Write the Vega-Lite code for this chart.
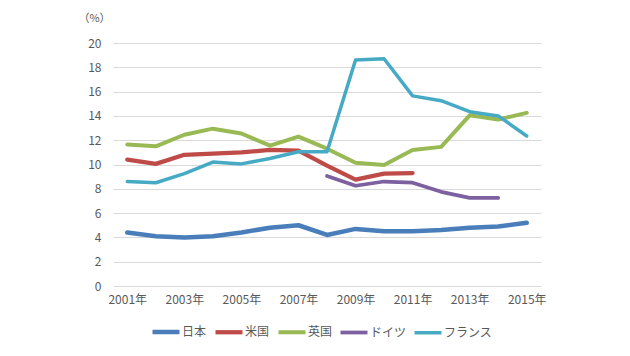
{
  "$schema": "https://vega.github.io/schema/vega-lite/v6.json",
  "autosize": {"type": "none"},
  "padding": {"left": 113, "top": 43, "right": 89, "bottom": 70},
  "width": 428,
  "height": 243,
  "background": "white",
  "config": {
    "view": {"stroke": null},
    "font": "Noto Sans CJK JP",
    "axis": {"labelFont": "Noto Sans CJK JP", "labelColor": "#595959", "labelFontSize": 12, "titleFont": "Noto Sans CJK JP"},
    "legend": {"labelFont": "Noto Sans CJK JP"}
  },
  "data": {
    "values": [
      {"year": 2001, "country": "日本", "value": 4.4},
      {"year": 2002, "country": "日本", "value": 4.1},
      {"year": 2003, "country": "日本", "value": 4.0},
      {"year": 2004, "country": "日本", "value": 4.1},
      {"year": 2005, "country": "日本", "value": 4.4},
      {"year": 2006, "country": "日本", "value": 4.8},
      {"year": 2007, "country": "日本", "value": 5.0},
      {"year": 2008, "country": "日本", "value": 4.2},
      {"year": 2009, "country": "日本", "value": 4.7},
      {"year": 2010, "country": "日本", "value": 4.5},
      {"year": 2011, "country": "日本", "value": 4.5},
      {"year": 2012, "country": "日本", "value": 4.6},
      {"year": 2013, "country": "日本", "value": 4.8},
      {"year": 2014, "country": "日本", "value": 4.9},
      {"year": 2015, "country": "日本", "value": 5.2},
      {"year": 2001, "country": "米国", "value": 10.4},
      {"year": 2002, "country": "米国", "value": 10.05},
      {"year": 2003, "country": "米国", "value": 10.8},
      {"year": 2004, "country": "米国", "value": 10.9},
      {"year": 2005, "country": "米国", "value": 11.0},
      {"year": 2006, "country": "米国", "value": 11.2},
      {"year": 2007, "country": "米国", "value": 11.15},
      {"year": 2008, "country": "米国", "value": 9.9},
      {"year": 2009, "country": "米国", "value": 8.75},
      {"year": 2010, "country": "米国", "value": 9.25},
      {"year": 2011, "country": "米国", "value": 9.3},
      {"year": 2001, "country": "英国", "value": 11.65},
      {"year": 2002, "country": "英国", "value": 11.5},
      {"year": 2003, "country": "英国", "value": 12.45},
      {"year": 2004, "country": "英国", "value": 12.95},
      {"year": 2005, "country": "英国", "value": 12.55},
      {"year": 2006, "country": "英国", "value": 11.55},
      {"year": 2007, "country": "英国", "value": 12.3},
      {"year": 2008, "country": "英国", "value": 11.3},
      {"year": 2009, "country": "英国", "value": 10.15},
      {"year": 2010, "country": "英国", "value": 9.95},
      {"year": 2011, "country": "英国", "value": 11.2},
      {"year": 2012, "country": "英国", "value": 11.45},
      {"year": 2013, "country": "英国", "value": 14.05},
      {"year": 2014, "country": "英国", "value": 13.7},
      {"year": 2015, "country": "英国", "value": 14.25},
      {"year": 2008, "country": "ドイツ", "value": 9.05},
      {"year": 2009, "country": "ドイツ", "value": 8.25},
      {"year": 2010, "country": "ドイツ", "value": 8.6},
      {"year": 2011, "country": "ドイツ", "value": 8.5},
      {"year": 2012, "country": "ドイツ", "value": 7.75},
      {"year": 2013, "country": "ドイツ", "value": 7.25},
      {"year": 2014, "country": "ドイツ", "value": 7.25},
      {"year": 2001, "country": "フランス", "value": 8.6},
      {"year": 2002, "country": "フランス", "value": 8.5},
      {"year": 2003, "country": "フランス", "value": 9.25},
      {"year": 2004, "country": "フランス", "value": 10.2},
      {"year": 2005, "country": "フランス", "value": 10.05},
      {"year": 2006, "country": "フランス", "value": 10.5},
      {"year": 2007, "country": "フランス", "value": 11.05},
      {"year": 2008, "country": "フランス", "value": 11.05},
      {"year": 2009, "country": "フランス", "value": 18.6},
      {"year": 2010, "country": "フランス", "value": 18.7},
      {"year": 2011, "country": "フランス", "value": 15.65},
      {"year": 2012, "country": "フランス", "value": 15.25},
      {"year": 2013, "country": "フランス", "value": 14.35},
      {"year": 2014, "country": "フランス", "value": 14.0},
      {"year": 2015, "country": "フランス", "value": 12.35}
    ]
  },
  "mark": {"type": "line", "strokeJoin": "round", "strokeCap": "round"},
  "encoding": {
    "x": {
      "field": "year",
      "type": "ordinal",
      "scale": {"type": "point", "padding": 0.5, "domain": [2001,2002,2003,2004,2005,2006,2007,2008,2009,2010,2011,2012,2013,2014,2015]},
      "axis": {
        "title": null,
        "values": [2001,2003,2005,2007,2009,2011,2013,2015],
        "labelExpr": "datum.label + '年'",
        "labelAngle": 0,
        "ticks": false,
        "domain": false,
        "grid": false,
        "labelPadding": 8
      }
    },
    "y": {
      "field": "value",
      "type": "quantitative",
      "scale": {"domain": [0, 20]},
      "axis": {
        "values": [0,2,4,6,8,10,12,14,16,18,20],
        "title": "（%）",
        "titleAngle": 0,
        "titleX": -19,
        "titleY": -25,
        "titleAlign": "center",
        "titleBaseline": "middle",
        "titleFontSize": 11,
        "titleFontWeight": "normal",
        "titleColor": "#595959",
        "ticks": false,
        "domain": false,
        "gridColor": "#d9d9d9",
        "gridWidth": 1,
        "labelPadding": 12
      }
    },
    "color": {
      "field": "country",
      "type": "nominal",
      "scale": {"domain": ["日本", "米国", "英国", "ドイツ", "フランス"], "range": ["#4a7ebb", "#be4b48", "#98b954", "#7d60a0", "#46aac5"]},
      "legend": {
        "title": null,
        "orient": "none",
        "legendX": 37,
        "legendY": 273,
        "direction": "horizontal",
        "columns": 5,
        "symbolType": "stroke",
        "symbolSize": 729,
        "symbolStrokeWidth": 4,
        "labelFontSize": 12,
        "labelColor": "#595959",
        "labelOffset": 0,
        "columnPadding": 0
      }
    },
    "strokeWidth": {
      "field": "country",
      "type": "nominal",
      "scale": {"domain": ["日本", "米国", "英国", "ドイツ", "フランス"], "range": [4.5, 3.5, 3.5, 3.5, 3.5]},
      "legend": null
    }
  }
}
